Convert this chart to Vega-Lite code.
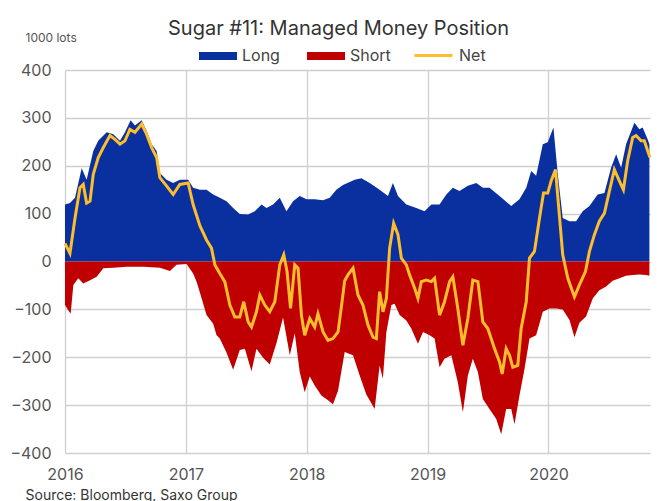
{
  "$schema": "https://vega.github.io/schema/vega-lite/v6.json",
  "width": 585,
  "height": 383,
  "autosize": "none",
  "padding": {"left": 65, "top": 70, "right": 12, "bottom": 48},
  "background": "white",
  "config": {"font": "Inter", "view": {"stroke": null}},
  "title": {"text": "Sugar #11: Managed Money Position", "fontSize": 20, "fontWeight": "normal", "color": "#333333", "anchor": "middle", "frame": "group", "dx": -19, "offset": 0, "dy": 8},
  "data": {"values": [
    {"series":"Long","year":2016.000,"value":119},{"series":"Long","year":2016.041,"value":122},{"series":"Long","year":2016.083,"value":133},{"series":"Long","year":2016.138,"value":195},{"series":"Long","year":2016.179,"value":171},{"series":"Long","year":2016.234,"value":231},{"series":"Long","year":2016.275,"value":252},{"series":"Long","year":2016.345,"value":270},{"series":"Long","year":2016.399,"value":266},{"series":"Long","year":2016.455,"value":252},{"series":"Long","year":2016.496,"value":270},{"series":"Long","year":2016.543,"value":295},{"series":"Long","year":2016.579,"value":284},{"series":"Long","year":2016.634,"value":295},{"series":"Long","year":2016.675,"value":273},{"series":"Long","year":2016.717,"value":245},{"series":"Long","year":2016.758,"value":231},{"series":"Long","year":2016.785,"value":185},{"series":"Long","year":2016.840,"value":171},{"series":"Long","year":2016.895,"value":164},{"series":"Long","year":2016.950,"value":171},{"series":"Long","year":2017.019,"value":171},{"series":"Long","year":2017.060,"value":154},{"series":"Long","year":2017.116,"value":150},{"series":"Long","year":2017.171,"value":150},{"series":"Long","year":2017.226,"value":140},{"series":"Long","year":2017.281,"value":133},{"series":"Long","year":2017.336,"value":126},{"series":"Long","year":2017.391,"value":112},{"series":"Long","year":2017.446,"value":99},{"series":"Long","year":2017.515,"value":98},{"series":"Long","year":2017.570,"value":105},{"series":"Long","year":2017.626,"value":119},{"series":"Long","year":2017.667,"value":112},{"series":"Long","year":2017.721,"value":119},{"series":"Long","year":2017.777,"value":133},{"series":"Long","year":2017.832,"value":105},{"series":"Long","year":2017.887,"value":126},{"series":"Long","year":2017.942,"value":137},{"series":"Long","year":2017.998,"value":130},{"series":"Long","year":2018.066,"value":130},{"series":"Long","year":2018.135,"value":128},{"series":"Long","year":2018.190,"value":133},{"series":"Long","year":2018.245,"value":150},{"series":"Long","year":2018.300,"value":160},{"series":"Long","year":2018.355,"value":166},{"series":"Long","year":2018.397,"value":171},{"series":"Long","year":2018.452,"value":174},{"series":"Long","year":2018.521,"value":164},{"series":"Long","year":2018.603,"value":150},{"series":"Long","year":2018.672,"value":137},{"series":"Long","year":2018.713,"value":164},{"series":"Long","year":2018.755,"value":137},{"series":"Long","year":2018.824,"value":119},{"series":"Long","year":2018.907,"value":112},{"series":"Long","year":2018.975,"value":105},{"series":"Long","year":2019.031,"value":119},{"series":"Long","year":2019.099,"value":119},{"series":"Long","year":2019.155,"value":140},{"series":"Long","year":2019.209,"value":154},{"series":"Long","year":2019.264,"value":147},{"series":"Long","year":2019.333,"value":158},{"series":"Long","year":2019.403,"value":164},{"series":"Long","year":2019.457,"value":154},{"series":"Long","year":2019.512,"value":154},{"series":"Long","year":2019.595,"value":137},{"series":"Long","year":2019.692,"value":116},{"series":"Long","year":2019.760,"value":130},{"series":"Long","year":2019.816,"value":154},{"series":"Long","year":2019.857,"value":189},{"series":"Long","year":2019.898,"value":179},{"series":"Long","year":2019.953,"value":245},{"series":"Long","year":2019.994,"value":249},{"series":"Long","year":2020.041,"value":280},{"series":"Long","year":2020.077,"value":182},{"series":"Long","year":2020.118,"value":91},{"series":"Long","year":2020.174,"value":84},{"series":"Long","year":2020.229,"value":84},{"series":"Long","year":2020.283,"value":105},{"series":"Long","year":2020.339,"value":116},{"series":"Long","year":2020.407,"value":140},{"series":"Long","year":2020.463,"value":143},{"series":"Long","year":2020.518,"value":196},{"series":"Long","year":2020.560,"value":224},{"series":"Long","year":2020.601,"value":196},{"series":"Long","year":2020.642,"value":245},{"series":"Long","year":2020.711,"value":290},{"series":"Long","year":2020.752,"value":276},{"series":"Long","year":2020.779,"value":280},{"series":"Long","year":2020.821,"value":255},{"series":"Long","year":2020.835,"value":245},
    {"series":"Short","year":2016.000,"value":-91},{"series":"Short","year":2016.027,"value":-102},{"series":"Short","year":2016.047,"value":-109},{"series":"Short","year":2016.069,"value":-49},{"series":"Short","year":2016.110,"value":-35},{"series":"Short","year":2016.151,"value":-46},{"series":"Short","year":2016.207,"value":-39},{"series":"Short","year":2016.262,"value":-32},{"series":"Short","year":2016.317,"value":-14},{"series":"Short","year":2016.399,"value":-13},{"series":"Short","year":2016.510,"value":-11},{"series":"Short","year":2016.647,"value":-11},{"series":"Short","year":2016.785,"value":-13},{"series":"Short","year":2016.868,"value":-20},{"series":"Short","year":2016.923,"value":-7},{"series":"Short","year":2017.006,"value":-5},{"series":"Short","year":2017.060,"value":-25},{"series":"Short","year":2017.088,"value":-42},{"series":"Short","year":2017.116,"value":-65},{"series":"Short","year":2017.171,"value":-112},{"series":"Short","year":2017.226,"value":-130},{"series":"Short","year":2017.254,"value":-154},{"series":"Short","year":2017.281,"value":-161},{"series":"Short","year":2017.336,"value":-190},{"series":"Short","year":2017.391,"value":-226},{"series":"Short","year":2017.446,"value":-185},{"series":"Short","year":2017.488,"value":-182},{"series":"Short","year":2017.543,"value":-229},{"series":"Short","year":2017.584,"value":-182},{"series":"Short","year":2017.639,"value":-201},{"series":"Short","year":2017.694,"value":-215},{"series":"Short","year":2017.750,"value":-170},{"series":"Short","year":2017.804,"value":-117},{"series":"Short","year":2017.860,"value":-196},{"series":"Short","year":2017.901,"value":-150},{"series":"Short","year":2017.942,"value":-231},{"series":"Short","year":2017.983,"value":-273},{"series":"Short","year":2018.025,"value":-240},{"series":"Short","year":2018.066,"value":-259},{"series":"Short","year":2018.121,"value":-280},{"series":"Short","year":2018.176,"value":-290},{"series":"Short","year":2018.217,"value":-298},{"series":"Short","year":2018.259,"value":-270},{"series":"Short","year":2018.314,"value":-189},{"series":"Short","year":2018.383,"value":-196},{"series":"Short","year":2018.438,"value":-238},{"series":"Short","year":2018.493,"value":-278},{"series":"Short","year":2018.562,"value":-308},{"series":"Short","year":2018.603,"value":-217},{"series":"Short","year":2018.630,"value":-245},{"series":"Short","year":2018.659,"value":-147},{"series":"Short","year":2018.700,"value":-91},{"series":"Short","year":2018.727,"value":-88},{"series":"Short","year":2018.769,"value":-112},{"series":"Short","year":2018.824,"value":-123},{"series":"Short","year":2018.865,"value":-140},{"series":"Short","year":2018.920,"value":-172},{"series":"Short","year":2018.962,"value":-147},{"series":"Short","year":2019.017,"value":-154},{"series":"Short","year":2019.058,"value":-161},{"series":"Short","year":2019.099,"value":-221},{"series":"Short","year":2019.140,"value":-203},{"series":"Short","year":2019.196,"value":-196},{"series":"Short","year":2019.250,"value":-252},{"series":"Short","year":2019.292,"value":-315},{"series":"Short","year":2019.333,"value":-238},{"series":"Short","year":2019.374,"value":-203},{"series":"Short","year":2019.416,"value":-231},{"series":"Short","year":2019.457,"value":-287},{"series":"Short","year":2019.512,"value":-308},{"series":"Short","year":2019.568,"value":-329},{"series":"Short","year":2019.609,"value":-361},{"series":"Short","year":2019.650,"value":-308},{"series":"Short","year":2019.692,"value":-308},{"series":"Short","year":2019.719,"value":-340},{"series":"Short","year":2019.760,"value":-280},{"series":"Short","year":2019.802,"value":-224},{"series":"Short","year":2019.843,"value":-161},{"series":"Short","year":2019.898,"value":-154},{"series":"Short","year":2019.953,"value":-105},{"series":"Short","year":2020.008,"value":-98},{"series":"Short","year":2020.064,"value":-98},{"series":"Short","year":2020.118,"value":-100},{"series":"Short","year":2020.174,"value":-122},{"series":"Short","year":2020.215,"value":-158},{"series":"Short","year":2020.256,"value":-128},{"series":"Short","year":2020.311,"value":-115},{"series":"Short","year":2020.367,"value":-77},{"series":"Short","year":2020.421,"value":-60},{"series":"Short","year":2020.477,"value":-52},{"series":"Short","year":2020.531,"value":-40},{"series":"Short","year":2020.587,"value":-35},{"series":"Short","year":2020.642,"value":-30},{"series":"Short","year":2020.697,"value":-28},{"series":"Short","year":2020.752,"value":-27},{"series":"Short","year":2020.807,"value":-28},{"series":"Short","year":2020.835,"value":-30},
    {"series":"Net","year":2016.000,"value":38},{"series":"Net","year":2016.041,"value":17},{"series":"Net","year":2016.083,"value":91},{"series":"Net","year":2016.124,"value":154},{"series":"Net","year":2016.151,"value":161},{"series":"Net","year":2016.179,"value":122},{"series":"Net","year":2016.207,"value":126},{"series":"Net","year":2016.234,"value":182},{"series":"Net","year":2016.275,"value":217},{"series":"Net","year":2016.317,"value":238},{"series":"Net","year":2016.372,"value":263},{"series":"Net","year":2016.413,"value":255},{"series":"Net","year":2016.455,"value":245},{"series":"Net","year":2016.496,"value":252},{"series":"Net","year":2016.537,"value":276},{"series":"Net","year":2016.579,"value":270},{"series":"Net","year":2016.634,"value":287},{"series":"Net","year":2016.675,"value":266},{"series":"Net","year":2016.717,"value":238},{"series":"Net","year":2016.758,"value":217},{"series":"Net","year":2016.785,"value":175},{"series":"Net","year":2016.840,"value":158},{"series":"Net","year":2016.895,"value":140},{"series":"Net","year":2016.950,"value":161},{"series":"Net","year":2017.019,"value":164},{"series":"Net","year":2017.060,"value":119},{"series":"Net","year":2017.116,"value":75},{"series":"Net","year":2017.171,"value":45},{"series":"Net","year":2017.212,"value":28},{"series":"Net","year":2017.240,"value":-7},{"series":"Net","year":2017.281,"value":-25},{"series":"Net","year":2017.322,"value":-42},{"series":"Net","year":2017.364,"value":-91},{"series":"Net","year":2017.405,"value":-116},{"series":"Net","year":2017.446,"value":-116},{"series":"Net","year":2017.479,"value":-84},{"series":"Net","year":2017.515,"value":-126},{"series":"Net","year":2017.543,"value":-137},{"series":"Net","year":2017.584,"value":-105},{"series":"Net","year":2017.612,"value":-70},{"series":"Net","year":2017.653,"value":-91},{"series":"Net","year":2017.694,"value":-105},{"series":"Net","year":2017.736,"value":-84},{"series":"Net","year":2017.777,"value":-7},{"series":"Net","year":2017.810,"value":14},{"series":"Net","year":2017.837,"value":-21},{"series":"Net","year":2017.866,"value":-98},{"series":"Net","year":2017.901,"value":-7},{"series":"Net","year":2017.928,"value":-14},{"series":"Net","year":2017.956,"value":-112},{"series":"Net","year":2017.983,"value":-154},{"series":"Net","year":2018.025,"value":-119},{"series":"Net","year":2018.066,"value":-137},{"series":"Net","year":2018.093,"value":-109},{"series":"Net","year":2018.135,"value":-147},{"series":"Net","year":2018.176,"value":-165},{"series":"Net","year":2018.217,"value":-161},{"series":"Net","year":2018.259,"value":-147},{"series":"Net","year":2018.289,"value":-90},{"series":"Net","year":2018.314,"value":-40},{"series":"Net","year":2018.341,"value":-28},{"series":"Net","year":2018.383,"value":-14},{"series":"Net","year":2018.424,"value":-70},{"series":"Net","year":2018.465,"value":-91},{"series":"Net","year":2018.507,"value":-133},{"series":"Net","year":2018.548,"value":-158},{"series":"Net","year":2018.576,"value":-161},{"series":"Net","year":2018.603,"value":-63},{"series":"Net","year":2018.631,"value":-105},{"series":"Net","year":2018.659,"value":-77},{"series":"Net","year":2018.686,"value":28},{"series":"Net","year":2018.719,"value":80},{"series":"Net","year":2018.755,"value":56},{"series":"Net","year":2018.783,"value":7},{"series":"Net","year":2018.824,"value":-7},{"series":"Net","year":2018.851,"value":-28},{"series":"Net","year":2018.893,"value":-56},{"series":"Net","year":2018.920,"value":-77},{"series":"Net","year":2018.948,"value":-42},{"series":"Net","year":2018.989,"value":-39},{"series":"Net","year":2019.031,"value":-42},{"series":"Net","year":2019.058,"value":-35},{"series":"Net","year":2019.099,"value":-112},{"series":"Net","year":2019.140,"value":-84},{"series":"Net","year":2019.182,"value":-42},{"series":"Net","year":2019.209,"value":-32},{"series":"Net","year":2019.250,"value":-98},{"series":"Net","year":2019.292,"value":-175},{"series":"Net","year":2019.333,"value":-119},{"series":"Net","year":2019.374,"value":-39},{"series":"Net","year":2019.416,"value":-42},{"series":"Net","year":2019.457,"value":-126},{"series":"Net","year":2019.498,"value":-140},{"series":"Net","year":2019.554,"value":-182},{"series":"Net","year":2019.595,"value":-210},{"series":"Net","year":2019.617,"value":-235},{"series":"Net","year":2019.650,"value":-182},{"series":"Net","year":2019.678,"value":-196},{"series":"Net","year":2019.705,"value":-221},{"series":"Net","year":2019.746,"value":-217},{"series":"Net","year":2019.774,"value":-140},{"series":"Net","year":2019.816,"value":-84},{"series":"Net","year":2019.843,"value":7},{"series":"Net","year":2019.884,"value":21},{"series":"Net","year":2019.926,"value":91},{"series":"Net","year":2019.959,"value":143},{"series":"Net","year":2019.994,"value":143},{"series":"Net","year":2020.022,"value":168},{"series":"Net","year":2020.058,"value":192},{"series":"Net","year":2020.085,"value":112},{"series":"Net","year":2020.118,"value":14},{"series":"Net","year":2020.160,"value":-35},{"series":"Net","year":2020.215,"value":-74},{"series":"Net","year":2020.256,"value":-49},{"series":"Net","year":2020.306,"value":-21},{"series":"Net","year":2020.339,"value":21},{"series":"Net","year":2020.380,"value":56},{"series":"Net","year":2020.421,"value":84},{"series":"Net","year":2020.463,"value":101},{"series":"Net","year":2020.504,"value":147},{"series":"Net","year":2020.545,"value":192},{"series":"Net","year":2020.587,"value":168},{"series":"Net","year":2020.620,"value":150},{"series":"Net","year":2020.655,"value":210},{"series":"Net","year":2020.697,"value":259},{"series":"Net","year":2020.725,"value":263},{"series":"Net","year":2020.766,"value":252},{"series":"Net","year":2020.793,"value":252},{"series":"Net","year":2020.821,"value":231},{"series":"Net","year":2020.840,"value":217}
  ]},
  "encoding": {
    "x": {"field": "year", "type": "quantitative",
      "scale": {"domain": [2016, 2020.84], "nice": false, "zero": false},
      "axis": {"values": [2016, 2017, 2018, 2019, 2020], "format": "d", "grid": true, "gridColor": "#cfcfcf", "gridWidth": 1.3, "domain": false, "ticks": false,
        "labelFontSize": 16, "labelColor": "#555555", "labelPadding": 13, "labelFlush": false,
        "title": "Source:  Bloomberg,  Saxo Group", "titleFontSize": 14, "titleFontWeight": "normal", "titleColor": "#333333",
        "titleAnchor": "start", "titleAlign": "left", "titleBaseline": "alphabetic", "titleX": -40, "titleY": 46}},
    "y": {"field": "value", "type": "quantitative", "stack": null,
      "scale": {"domain": [-400, 400], "nice": false},
      "axis": {"values": [-400, -300, -200, -100, 0, 100, 200, 300, 400], "grid": true, "gridColor": "#cfcfcf", "gridWidth": 1.3, "domain": false, "ticks": false,
        "labelFontSize": 16, "labelColor": "#555555", "labelPadding": 14,
        "title": "1000 lots", "titleAngle": 0, "titleAlign": "left", "titleBaseline": "alphabetic", "titleX": -40, "titleY": -29,
        "titleFontSize": 12, "titleFontWeight": "normal", "titleColor": "#555555"}}
  },
  "layer": [
    {
      "transform": [{"filter": "datum.series !== 'Net'"}],
      "mark": {"type": "area", "interpolate": "linear"},
      "encoding": {
        "fill": {"field": "series", "type": "nominal",
          "scale": {"domain": ["Long", "Short"], "range": ["#0a2f9f", "#c00000"]},
          "legend": {"orient": "none", "legendX": 134, "legendY": -33, "direction": "horizontal", "title": null,
            "symbolType": "M-1,-0.21H1V0.21H-1Z", "symbolSize": 1444, "symbolStrokeWidth": 0, "symbolOpacity": 1,
            "labelFontSize": 16, "labelColor": "#444444", "columnPadding": 27, "labelOffset": 5}}
      }
    },
    {
      "transform": [{"filter": "datum.series === 'Net'"}],
      "mark": {"type": "line", "strokeWidth": 3, "interpolate": "linear"},
      "encoding": {
        "stroke": {"field": "series", "type": "nominal",
          "scale": {"domain": ["Net"], "range": ["#fdbe2c"]},
          "legend": {"orient": "none", "legendX": 348, "legendY": -35, "direction": "horizontal", "title": null,
            "symbolType": "stroke", "symbolSize": 1444, "symbolStrokeWidth": 3,
            "labelFontSize": 16, "labelColor": "#444444", "labelOffset": 5}}
      }
    }
  ]
}
